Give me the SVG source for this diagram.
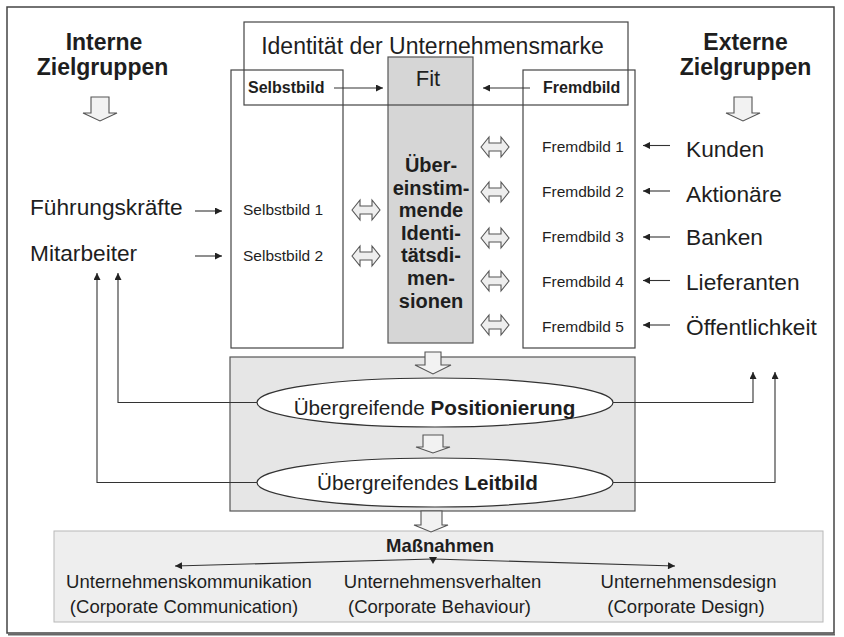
<svg xmlns="http://www.w3.org/2000/svg" width="844" height="637" viewBox="0 0 844 637">
<defs>
<marker id="ah" viewBox="0 0 10 10" refX="10" refY="5" markerWidth="9" markerHeight="7" markerUnits="userSpaceOnUse" orient="auto">
<path d="M0,0 L10,5 L0,10 z" fill="#222"/>
</marker>
</defs>
<style>
text{font-family:"Liberation Sans",Arial,sans-serif;fill:#1e1e1e}
.b{font-weight:bold}
.box{fill:none;stroke:#444;stroke-width:1.2}
.ln{fill:none;stroke:#333;stroke-width:1.1}
.arr{fill:none;stroke:#333;stroke-width:1.1;marker-end:url(#ah)}
.blk{fill:#f2f2f2;stroke:#555;stroke-width:1.1}
.dbl{fill:#eeeeee;stroke:#555;stroke-width:1.1}
.big{font-size:22.7px}
.sm{font-size:15.5px}
.m{text-anchor:middle}
</style>
<rect x="0" y="0" width="844" height="637" fill="#fff"/>
<rect x="7" y="7" width="827" height="626" fill="#fff" stroke="#444" stroke-width="1.5"/>
<line x1="8" y1="634.5" x2="835" y2="634.5" stroke="#666" stroke-width="2"/>

<g id="interne">
<text class="b m" x="104" y="50" font-size="23">Interne</text>
<text class="b m" x="102.5" y="75" font-size="23">Zielgruppen</text>
<path class="blk" d="M91,97 L109,97 L109,113 L117,113 L100,121 L83,113 L91,113 Z"/>
</g>
<g id="externe">
<text class="b m" x="745.5" y="50" font-size="23">Externe</text>
<text class="b m" x="745.5" y="75" font-size="23">Zielgruppen</text>
<path class="blk" d="M734,97 L752,97 L752,113 L760,113 L743,121 L726,113 L734,113 Z"/>
</g>

<g id="intern-labels">
<text class="big" x="30" y="215">Führungskräfte</text>
<text class="big" x="30" y="261">Mitarbeiter</text>
</g>
<g id="extern-labels">
<text class="big" x="686" y="157">Kunden</text>
<text class="big" x="686" y="202">Aktionäre</text>
<text class="big" x="686" y="245">Banken</text>
<text class="big" x="686" y="290">Lieferanten</text>
<text class="big" x="686" y="335">Öffentlichkeit</text>
</g>

<g id="fit">
<rect x="388" y="57" width="85" height="286" fill="#d6d6d6" stroke="#555" stroke-width="1.2"/>
<text class="m" x="428" y="86" font-size="22">Fit</text>
<text class="b m" x="431" y="172" font-size="20">Über-</text>
<text class="b m" x="431" y="194.5" font-size="20">einstim-</text>
<text class="b m" x="431" y="217" font-size="20">mende</text>
<text class="b m" x="431" y="239.5" font-size="20">Identi-</text>
<text class="b m" x="431" y="262" font-size="20">tätsdi-</text>
<text class="b m" x="431" y="285" font-size="20">men-</text>
<text class="b m" x="431" y="308" font-size="20">sionen</text>
</g>

<g id="selbstbild">
<rect class="box" x="231" y="70" width="112" height="278"/>
<text class="b" x="248" y="93" font-size="16">Selbstbild</text>
<text class="sm" x="243" y="215">Selbstbild 1</text>
<text class="sm" x="243" y="261">Selbstbild 2</text>
</g>

<g id="fremdbild">
<rect class="box" x="523" y="70" width="112" height="278"/>
<text class="b" x="543" y="93" font-size="16">Fremdbild</text>
<text class="sm" x="542" y="151.5">Fremdbild 1</text>
<text class="sm" x="542" y="197">Fremdbild 2</text>
<text class="sm" x="542" y="242">Fremdbild 3</text>
<text class="sm" x="542" y="286.5">Fremdbild 4</text>
<text class="sm" x="542" y="331.5">Fremdbild 5</text>
</g>

<g id="identitaet">
<rect class="box" x="244" y="22" width="384" height="83"/>
<text class="m" x="432.5" y="54" font-size="23">Identität der Unternehmensmarke</text>
</g>

<g id="mitte">
<rect x="230" y="357" width="405" height="154" fill="#e6e6e6" stroke="#555" stroke-width="1.2"/>
</g>
<g id="positionierung">
<ellipse cx="435" cy="402.5" rx="178" ry="24.5" fill="#fff" stroke="#333" stroke-width="1.2"/>
<text class="m" x="434.5" y="415" font-size="20.7">Übergreifende <tspan class="b">Positionierung</tspan></text>
</g>
<g id="leitbild">
<ellipse cx="435" cy="482.5" rx="178" ry="24.5" fill="#fff" stroke="#333" stroke-width="1.2"/>
<text class="m" x="427.5" y="490" font-size="20.7">Übergreifendes <tspan class="b">Leitbild</tspan></text>
</g>

<g id="massnahmen">
<rect x="54" y="531" width="769" height="91" fill="#eeeeee" stroke="#b8b8b8" stroke-width="1"/>
<text class="b m" x="440" y="552" font-size="18.5">Maßnahmen</text>
<text class="m" x="189" y="588" font-size="18.5">Unternehmenskommunikation</text>
<text class="m" x="184" y="613" font-size="18.5">(Corporate Communication)</text>
<text class="m" x="442.5" y="588" font-size="18.5">Unternehmensverhalten</text>
<text class="m" x="439.5" y="613" font-size="18.5">(Corporate Behaviour)</text>
<text class="m" x="688.5" y="588" font-size="18.5">Unternehmensdesign</text>
<text class="m" x="686" y="613" font-size="18.5">(Corporate Design)</text>
</g>

<g id="connectors">
<line class="arr" x1="334" y1="88" x2="383" y2="88"/>
<line class="arr" x1="530" y1="88" x2="483" y2="88"/>
<line class="arr" x1="195" y1="211" x2="222" y2="211"/>
<line class="arr" x1="195" y1="256" x2="222" y2="256"/>
<line class="arr" x1="670" y1="145.5" x2="643" y2="145.5"/>
<line class="arr" x1="670" y1="191" x2="643" y2="191"/>
<line class="arr" x1="670" y1="237" x2="643" y2="237"/>
<line class="arr" x1="670" y1="280.5" x2="643" y2="280.5"/>
<line class="arr" x1="670" y1="325" x2="643" y2="325"/>
<path class="dbl" d="M352,210 L360,200 L360,206 L372,206 L372,200 L380,210 L372,220 L372,214 L360,214 L360,220 Z"/>
<path class="dbl" d="M352,256 L360,246 L360,252 L372,252 L372,246 L380,256 L372,266 L372,260 L360,260 L360,266 Z"/>
<path class="dbl" d="M481,147 L489,137 L489,143 L501,143 L501,137 L509,147 L501,157 L501,151 L489,151 L489,157 Z"/>
<path class="dbl" d="M481,192 L489,182 L489,188 L501,188 L501,182 L509,192 L501,202 L501,196 L489,196 L489,202 Z"/>
<path class="dbl" d="M481,238 L489,228 L489,234 L501,234 L501,228 L509,238 L501,248 L501,242 L489,242 L489,248 Z"/>
<path class="dbl" d="M481,281 L489,271 L489,277 L501,277 L501,271 L509,281 L501,291 L501,285 L489,285 L489,291 Z"/>
<path class="dbl" d="M481,325 L489,315 L489,321 L501,321 L501,315 L509,325 L501,335 L501,329 L489,329 L489,335 Z"/>
<path class="blk" d="M425,352 L441,352 L441,365 L451,365 L433,374 L415,365 L425,365 Z"/>
<path class="blk" d="M423,435 L443,435 L443,447 L450,447 L433,453 L416,447 L423,447 Z"/>
<path class="blk" d="M421,511 L442,511 L442,525 L448,525 L431,532 L414,525 L421,525 Z"/>
<polyline class="arr" points="257,402.5 118,402.5 118,273"/>
<polyline class="arr" points="257,482.5 97,482.5 97,273"/>
<polyline class="arr" points="613,402.5 753,402.5 753,372"/>
<polyline class="arr" points="613,482.5 775,482.5 775,372"/>
<line class="arr" x1="433" y1="559" x2="175" y2="566"/>
<line class="arr" x1="433" y1="559" x2="675" y2="566"/>
<path d="M429,557 L437,557 L433,564 Z" fill="#222"/>
</g>
</svg>
